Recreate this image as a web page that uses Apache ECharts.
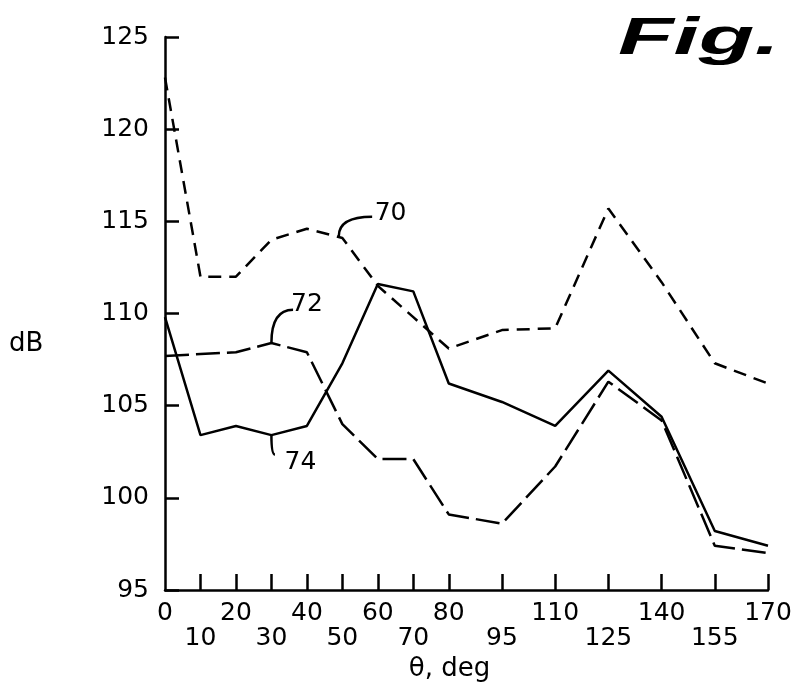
<!DOCTYPE html>
<html>
<head>
<meta charset="utf-8">
<script src="https://cdn.jsdelivr.net/npm/echarts@6/dist/echarts.min.js"></script>
<style>
html,body{margin:0;padding:0;background:#fff;}
#chart{width:792px;height:682px;}
</style>
</head>
<body>
<div id="chart"></div>
<script>
// angle ticks (deg) and dB ticks
const thetaTicks = [10, 20, 30, 40, 50, 60, 70, 80, 95, 110, 125, 140, 155, 170];
const thetaLabels = [0, 10, 20, 30, 40, 50, 60, 70, 80, 95, 110, 125, 140, 155, 170];
const lowerRowLabels = [10, 30, 50, 70, 95, 125, 155];

// curve 70 (dashed)
const curve70 = [[0,122.8],[10,112.0],[20,112.0],[30,114.0],[40,114.6],[50,114.1],[60,111.5],[70,109.8],[80,108.1],[95,109.1],[110,109.2],[125,115.7],[140,111.7],[155,107.3],[170,106.2]];
// curve 72 (long dash)
const curve72 = [[0,107.7],[10,107.8],[20,107.9],[30,108.4],[40,107.9],[50,104.0],[60,102.1],[70,102.1],[80,99.1],[95,98.6],[110,101.7],[125,106.3],[140,104.2],[155,97.4],[170,97.0]];
// curve 74 (solid)
const curve74 = [[0,109.8],[10,103.4],[20,103.9],[30,103.4],[40,103.9],[50,107.3],[60,111.6],[70,111.2],[80,106.2],[95,105.2],[110,103.9],[125,106.9],[140,104.4],[155,98.2],[170,97.4]];

// annotation callouts: label, anchor on curve, leader end, label centre (data coords)
const callouts = [
  {text: '70', anchor: [49, 114.2], end: [58.4, 115.25], label: [63.6, 115.4]},
  {text: '72', anchor: [30, 108.4], end: [36.1, 110.2], label: [40.0, 110.5]},
  {text: '74', anchor: [30, 103.4], end: [31.0, 102.35], label: [38.2, 101.9]}
];

const FONT = 'DejaVu Sans';
const chart = echarts.init(document.getElementById('chart'));
const lineBase = {type: 'line', symbol: 'none', silent: true, z: 3};

chart.setOption({
  animation: false,
  backgroundColor: '#fff',
  grid: {left: 165, right: 24, top: 37, bottom: 92, containLabel: false, outerBoundsMode: 'none'},
  xAxis: {
    type: 'value', min: 0, max: 170,
    name: 'θ, deg', nameLocation: 'middle', nameGap: 55,
    nameTextStyle: {fontFamily: FONT, fontSize: 26, color: '#000', padding: [0, 34, 0, 0]},
    splitLine: {show: false},
    axisLine: {lineStyle: {color: '#000', width: 2.5}},
    axisTick: {inside: true, length: 16, customValues: thetaTicks, lineStyle: {color: '#000', width: 2.5}},
    axisLabel: {
      customValues: thetaLabels, margin: 11, hideOverlap: false,
      fontFamily: FONT, fontSize: 25, color: '#000', lineHeight: 25,
      formatter: v => lowerRowLabels.indexOf(v) >= 0 ? '\n' + v : String(v)
    }
  },
  yAxis: {
    type: 'value', min: 95, max: 125, interval: 5,
    splitLine: {show: false},
    axisLine: {lineStyle: {color: '#000', width: 2.5}},
    axisTick: {inside: true, length: 14, lineStyle: {color: '#000', width: 2.5}},
    axisLabel: {margin: 16, fontFamily: FONT, fontSize: 25, color: '#000'}
  },
  series: [
    Object.assign({}, lineBase, {name: '70', data: curve70, lineStyle: {color: '#000', width: 2.5, type: [13, 8]}}),
    Object.assign({}, lineBase, {name: '72', data: curve72, lineStyle: {color: '#000', width: 2.5, type: [24, 7]}}),
    Object.assign({}, lineBase, {name: '74', data: curve74, lineStyle: {color: '#000', width: 2.5}})
  ]
});

const gfx = [];
callouts.forEach(c => {
  const a = chart.convertToPixel({gridIndex: 0}, c.anchor);
  const e = chart.convertToPixel({gridIndex: 0}, c.end);
  const l = chart.convertToPixel({gridIndex: 0}, c.label);
  gfx.push({
    type: 'bezierCurve', silent: true,
    shape: {x1: a[0], y1: a[1], x2: e[0], y2: e[1], cpx1: a[0], cpy1: e[1]},
    style: {stroke: '#000', lineWidth: 2.5, fill: null}
  });
  gfx.push({
    type: 'text', silent: true, x: l[0], y: l[1],
    style: {text: c.text, fontFamily: FONT, fontSize: 25, fill: '#000', align: 'center', verticalAlign: 'middle'}
  });
});
gfx.push({
  type: 'text', silent: true, left: 9, top: 331,
  style: {text: 'dB', fontFamily: FONT, fontSize: 26, fill: '#000'}
});
gfx.push({
  type: 'text', silent: true, x: 618, y: 14, scaleX: 1.75,
  style: {text: 'Fig.', fontFamily: 'Liberation Sans', fontSize: 52, fontStyle: 'italic', fontWeight: 'bold', fill: '#000'}
});
chart.setOption({graphic: gfx});
</script>
</body>
</html>
